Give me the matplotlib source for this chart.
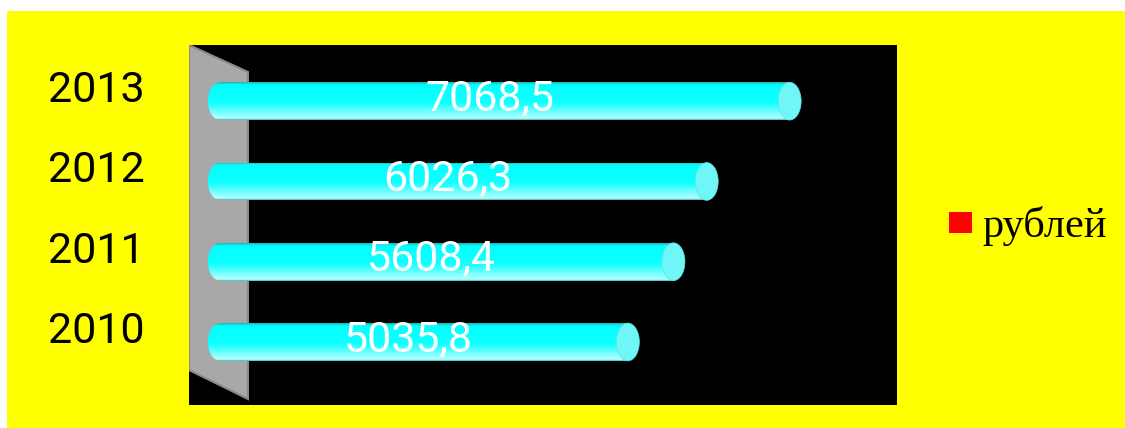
import matplotlib
matplotlib.use("Agg")
import matplotlib.pyplot as plt
import numpy as np
from matplotlib.colors import LinearSegmentedColormap
from matplotlib.patches import Ellipse, Polygon, Rectangle
from matplotlib.transforms import blended_transform_factory

# data
years = ["2010", "2011", "2012", "2013"]
values = [5035.8, 5608.4, 6026.3, 7068.5]
value_labels = ["5035,8", "5608,4", "6026,3", "7068,5"]
legend_label = "рублей"

W, H = 1125, 428
fig = plt.figure(figsize=(W / 100, H / 100), dpi=100)
fig.patch.set_facecolor("white")
fig.patches.append(Rectangle((7 / W, 0), 1 - 7 / W, 417 / H, transform=fig.transFigure,
                             facecolor="#FFFF00", edgecolor="none", zorder=-10))

ax = fig.add_axes([189 / W, 23 / H, 708 / W, 360 / H])
ax.set_facecolor("black")
for s in ax.spines.values():
    s.set_visible(False)
ax.set_xticks([]); ax.set_yticks([])

# grey "wall" at the base of the bars
ax.add_patch(Polygon([(0, 1), (0.0833, 0.925), (0.0833, 0.0167), (0, 0.0972)],
                     closed=True, transform=ax.transAxes, facecolor="#A8A8A8",
                     edgecolor="#8A8A8A", lw=1.5, zorder=1))

xlim = (-477, 8417)
ylim = (-0.785, 3.70)
px_per_x = 708 / (xlim[1] - xlim[0])
bar_h = 0.47
start = -239
end_w = 24 / px_per_x   # rounded left end
cap_w = 23 / px_per_x   # cylinder cap

cmap = LinearSegmentedColormap.from_list(
    "tube", [(0, "#3FB5B5"), (0.04, "#B8FFFF"), (0.45, "#10FFFF"),
             (0.93, "#00FFFF"), (1, "#2AB0B0")])
grad = np.linspace(0, 1, 128).reshape(-1, 1)

ypos = np.arange(len(years))
bars = ax.barh(ypos, [v - (start + end_w / 2) for v in values], left=start + end_w / 2,
               height=bar_h, color="none", edgecolor="none", zorder=2)

for y, v, bar in zip(ypos, values, bars):
    im = ax.imshow(grad, cmap=cmap, aspect="auto", origin="lower",
                   extent=(start, v, y - bar_h / 2, y + bar_h / 2), zorder=3)
    im.set_clip_path(bar)
    lend = Ellipse((start + end_w / 2, y), end_w, bar_h, transform=ax.transData,
                   facecolor="none", edgecolor="none")
    ax.add_patch(lend)
    im2 = ax.imshow(grad, cmap=cmap, aspect="auto", origin="lower",
                    extent=(start, v, y - bar_h / 2, y + bar_h / 2), zorder=3)
    im2.set_clip_path(lend)
    ax.add_patch(Ellipse((v, y), cap_w, bar_h, facecolor="#70F6F6",
                         edgecolor="#5AE6E6", lw=0.5, zorder=4))

for y, v, lab in zip(ypos, values, value_labels):
    ax.text(v / 2 - 235, y - 0.112, lab, color="white", fontsize=31,
            family="Roboto", ha="center", va="baseline", zorder=5)

trans = blended_transform_factory(fig.transFigure, ax.transData)
for y, yr in zip(ypos, years):
    ax.text(96 / W, y - 0.01, yr, transform=trans, color="black", fontsize=31,
            family="Roboto", ha="center", va="baseline")

ax.set_xlim(*xlim)
ax.set_ylim(*ylim)

# legend
fig.patches.append(Rectangle((949 / W, (428 - 233) / H), 23 / W, 21 / H,
                             transform=fig.transFigure, facecolor="#FF0000",
                             edgecolor="none", zorder=2))
fig.text(982 / W, (428 - 237) / H, legend_label, family="Liberation Serif",
         fontsize=30.5, va="baseline", color="black")

fig.savefig("out.png", dpi=100, facecolor=fig.get_facecolor())
